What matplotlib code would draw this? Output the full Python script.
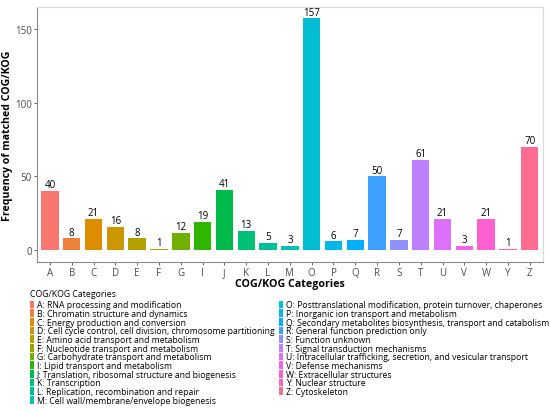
import numpy as np
import matplotlib
matplotlib.use("Agg")
import matplotlib.pyplot as plt
from matplotlib.patches import Patch

plt.rcParams['font.family'] = ['Open Sans', 'DejaVu Sans']

cats = ['A', 'B', 'C', 'D', 'E', 'F', 'G', 'I', 'J', 'K', 'L', 'M',
        'O', 'P', 'Q', 'R', 'S', 'T', 'U', 'V', 'W', 'Y', 'Z']
counts = [40, 8, 21, 16, 8, 1, 12, 19, 41, 13, 5, 3,
          157, 6, 7, 50, 7, 61, 21, 3, 21, 1, 70]
descs = [
    "RNA processing and modification",
    "Chromatin structure and dynamics",
    "Energy production and conversion",
    "Cell cycle control, cell division, chromosome partitioning",
    "Amino acid transport and metabolism",
    "Nucleotide transport and metabolism",
    "Carbohydrate transport and metabolism",
    "Lipid transport and metabolism",
    "Translation, ribosomal structure and biogenesis",
    "Transcription",
    "Replication, recombination and repair",
    "Cell wall/membrane/envelope biogenesis",
    "Posttranslational modification, protein turnover, chaperones",
    "Inorganic ion transport and metabolism",
    "Secondary metabolites biosynthesis, transport and catabolism",
    "General function prediction only",
    "Function unknown",
    "Signal transduction mechanisms",
    "Intracellular trafficking, secretion, and vesicular transport",
    "Defense mechanisms",
    "Extracellular structures",
    "Nuclear structure",
    "Cytoskeleton",
]


# ggplot2-like hue palette (HCL, l=65, c=100)
def hue_pal(n, l=65.0, c=100.0):
    hs = np.linspace(15, 375, n + 1)[:-1]
    Xn, Yn, Zn = 95.047, 100.0, 108.883
    un = 4 * Xn / (Xn + 15 * Yn + 3 * Zn)
    vn = 9 * Yn / (Xn + 15 * Yn + 3 * Zn)
    out = []
    for h in hs:
        u = c * np.cos(np.radians(h))
        v = c * np.sin(np.radians(h))
        Y = Yn * ((l + 16) / 116) ** 3
        up = u / (13 * l) + un
        vp = v / (13 * l) + vn
        X = Y * 9 * up / (4 * vp)
        Z = Y * (12 - 3 * up - 20 * vp) / (4 * vp)
        xyz = np.array([X, Y, Z]) / 100
        M = np.array([[3.2404542, -1.5371385, -0.4985314],
                      [-0.9692660, 1.8760108, 0.0415560],
                      [0.0556434, -0.2040259, 1.0572252]])
        rgb = M @ xyz
        rgb = np.where(rgb <= 0.0031308, 12.92 * rgb,
                       1.055 * np.clip(rgb, 0, None) ** (1 / 2.4) - 0.055)
        out.append(tuple(np.clip(rgb, 0, 1)))
    return out


colors = hue_pal(len(cats))

fig = plt.figure(figsize=(5.5, 4.14), dpi=100)
ax = fig.add_axes([0.067, 0.365, 0.92, 0.616])

x = np.arange(len(cats))
ax.bar(x, counts, width=0.8, color=colors)
for xi, c in zip(x, counts):
    ax.text(xi, c + 0.6, str(c), ha='center', va='bottom', fontsize=7, color='black')

ax.set_xlim(-0.6, len(cats) - 0.4)
ax.set_ylim(-7.85, 164.85)
ax.set_xticks(x)
ax.set_xticklabels(cats)
ax.set_yticks([0, 50, 100, 150])
ax.tick_params(axis='both', labelsize=7, colors='#4d4d4d', length=2.5, width=0.6, pad=1)
ax.set_xlabel('COG/KOG Categories', fontsize=7.7, fontweight='bold', labelpad=0)
ax.set_ylabel('Frequency of matched COG/KOG', fontsize=7.6, fontweight='bold', labelpad=1.5)
for s in ['top', 'right']:
    ax.spines[s].set_color('#d9d9d9')
for s in ['left', 'bottom']:
    ax.spines[s].set_color('#8c8c8c')
for s in ax.spines.values():
    s.set_linewidth(0.8)

fig.text(0.054, 1 - 295 / 414, 'COG/KOG Categories', fontsize=6.3, va='center', ha='left')
handles = [Patch(facecolor=col, edgecolor='none', label=f"{c}: {d}")
           for col, c, d in zip(colors, cats, descs)]
leg = fig.legend(handles=handles, ncol=2, loc='upper left', bbox_to_anchor=(0.054, 1 - 301.5 / 414),
                 frameon=False, fontsize=6.25,
                 handlelength=0.5, handleheight=1.0, handletextpad=0.35,
                 labelspacing=-0.04, columnspacing=0.45, borderaxespad=0, borderpad=0)

fig.savefig('out.png', dpi=100)
